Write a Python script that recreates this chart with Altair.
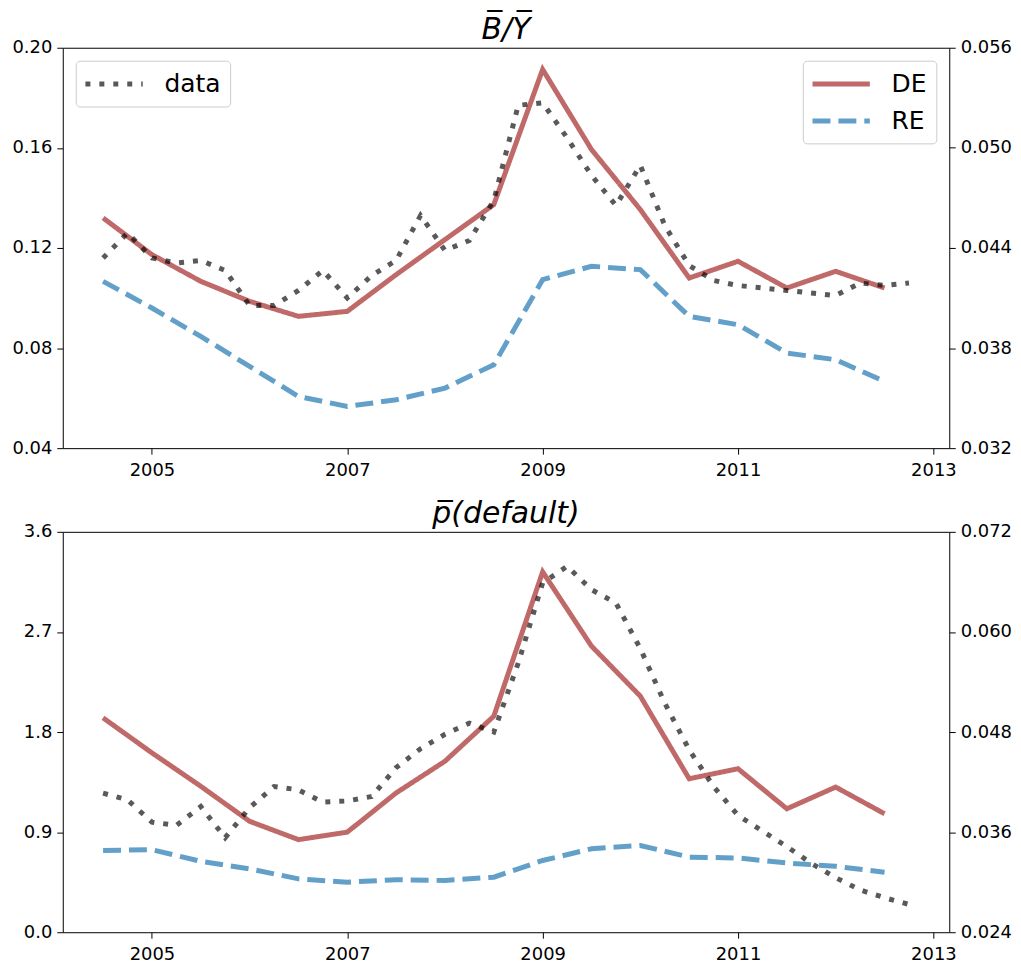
import altair as alt
import pandas as pd

FONT = "DejaVu Sans"

# quarterly dates of the observed series
quarters = [2004.5, 2004.75, 2005.0, 2005.25, 2005.5, 2005.75, 2006.0, 2006.25,
            2006.5, 2006.75, 2007.0, 2007.25, 2007.5, 2007.75, 2008.0, 2008.25,
            2008.5, 2008.75, 2009.0, 2009.25, 2009.5, 2009.75, 2010.0, 2010.25,
            2010.5, 2010.75, 2011.0, 2011.25, 2011.5, 2011.75, 2012.0, 2012.25,
            2012.5, 2012.75]
# half-year dates of the model series
halves = [2004.5, 2005.0, 2005.5, 2006.0, 2006.5, 2007.0, 2007.5, 2008.0, 2008.5,
          2009.0, 2009.5, 2010.0, 2010.5, 2011.0, 2011.5, 2012.0, 2012.5]

# top panel: B/Y
by_data = [0.116, 0.126, 0.116, 0.114, 0.115, 0.111, 0.097, 0.097,
           0.103, 0.111, 0.100, 0.109, 0.115, 0.133, 0.119, 0.123,
           0.139, 0.177, 0.178, 0.164, 0.149, 0.137, 0.153, 0.129,
           0.113, 0.107, 0.105, 0.104, 0.103, 0.102, 0.101, 0.106,
           0.105, 0.106]
by_de = [0.0458, 0.0436, 0.0420, 0.0408, 0.0399, 0.0402, 0.0424, 0.0445, 0.0466,
         0.0547, 0.0499, 0.0463, 0.0422, 0.0432, 0.0416, 0.0426, 0.0416]
by_re = [0.0420, 0.0404, 0.0387, 0.0369, 0.0351, 0.0345, 0.0349, 0.0356, 0.0370,
         0.0421, 0.0429, 0.0427, 0.0399, 0.0394, 0.0377, 0.0373, 0.0360]

# bottom panel: p(default)
pd_data = [1.25, 1.19, 0.99, 0.96, 1.13, 0.85, 1.12, 1.31,
           1.28, 1.17, 1.18, 1.22, 1.48, 1.65, 1.78, 1.88,
           1.80, 2.42, 3.14, 3.29, 3.08, 2.96, 2.55, 2.06,
           1.64, 1.31, 1.05, 0.91, 0.77, 0.62, 0.49, 0.38,
           0.31, 0.25]
pd_de = [0.0497, 0.0455, 0.0415, 0.0373, 0.0351, 0.0360, 0.0407, 0.0445, 0.0499,
         0.0672, 0.0583, 0.0523, 0.0424, 0.0436, 0.0388, 0.0414, 0.0382]
pd_re = [0.0338, 0.0339, 0.0325, 0.0316, 0.0304, 0.0300, 0.0303, 0.0302, 0.0306,
         0.0326, 0.0340, 0.0344, 0.0330, 0.0329, 0.0323, 0.0319, 0.0312]

x_ticks = [2005, 2007, 2009, 2011, 2013]
x_domain = [2004.0875, 2013.1625]

by_left_ticks = [0.04, 0.08, 0.12, 0.16, 0.20]
by_right_ticks = [0.032, 0.038, 0.044, 0.050, 0.056]
pd_left_ticks = [0.0, 0.9, 1.8, 2.7, 3.6]
pd_right_ticks = [0.024, 0.036, 0.048, 0.060, 0.072]

W, H = 890, 402


def legend(orient, show):
    if not show:
        return None
    return alt.Legend(
        orient=orient, title=None, symbolType="M-2.5,0H2.5", symbolSize=530,
        symbolStrokeWidth=5, labelFontSize=25, labelFont=FONT, labelColor="black",
        fillColor="white", strokeColor="#cccccc", cornerRadius=4, padding=9,
        offset=13, labelOffset=36, symbolOffset=15, rowPadding=9)


def panel(title, dq, de, re, lt, lfmt, rt, rfmt, show_legend):
    df_data = pd.DataFrame({"t": quarters, "v": dq, "series": ["data"] * len(quarters)})
    df_model = pd.DataFrame({"t": halves + halves, "v": de + re,
                             "series": ["DE"] * len(halves) + ["RE"] * len(halves)})
    x = alt.X("t:Q", scale=alt.Scale(domain=x_domain, nice=False, zero=False),
              axis=alt.Axis(values=x_ticks, format="d", title=None, labelPadding=7))

    ml = legend("top-right", show_legend)
    model_color = alt.Color("series:N", scale=alt.Scale(domain=["DE", "RE"], range=["#a52a2a", "#1f77b4"]),
                            legend=ml)
    model_dash = alt.StrokeDash("series:N", scale=alt.Scale(domain=["DE", "RE"], range=[[1, 0], [18, 8]]),
                                legend=ml)
    model = alt.Chart(df_model).mark_line(strokeWidth=5, opacity=0.7, strokeCap="butt").encode(
        x=x,
        y=alt.Y("v:Q", scale=alt.Scale(domain=[rt[0], rt[-1]], nice=False, zero=False),
                axis=alt.Axis(orient="right", values=rt, format=rfmt, title=None)),
        color=model_color, strokeDash=model_dash, detail="series:N")

    dl = legend("top-left", show_legend)
    data = alt.Chart(df_data).mark_line(strokeWidth=5, opacity=0.65, strokeCap="butt").encode(
        x=x,
        y=alt.Y("v:Q", scale=alt.Scale(domain=[lt[0], lt[-1]], nice=False, zero=False),
                axis=alt.Axis(orient="left", values=lt, format=lfmt, title=None)),
        color=alt.Color("series:N", scale=alt.Scale(domain=["data"], range=["black"]), legend=dl),
        strokeDash=alt.StrokeDash("series:N", scale=alt.Scale(domain=["data"], range=[[5, 9]]), legend=dl))

    return alt.layer(model, data).resolve_scale(
        y="independent", color="independent", strokeDash="independent"
    ).properties(
        width=W, height=H,
        title=alt.TitleParams(title, font=FONT, fontSize=30, fontStyle="italic", fontWeight="normal",
                              anchor="middle", offset=-30, baseline="alphabetic", color="black"))


top = panel("B\u0305/Y\u0305", by_data, by_de, by_re, by_left_ticks, ".2f", by_right_ticks, ".3f", True)
bottom = panel("p\u0305(default)", pd_data, pd_de, pd_re, pd_left_ticks, ".1f", pd_right_ticks, ".3f", False)

chart = alt.vconcat(top, bottom, spacing=18).properties(
    padding={"left": 3, "top": 4, "right": 0, "bottom": 0}
).configure_view(
    stroke="black", strokeWidth=1
).configure_axis(
    grid=False, domain=False, labelFont=FONT, labelFontSize=18, labelColor="black",
    tickColor="black", tickSize=6, tickWidth=1, labelPadding=5
)

chart.save("out.html", embed_options={"renderer": "svg", "actions": False})
